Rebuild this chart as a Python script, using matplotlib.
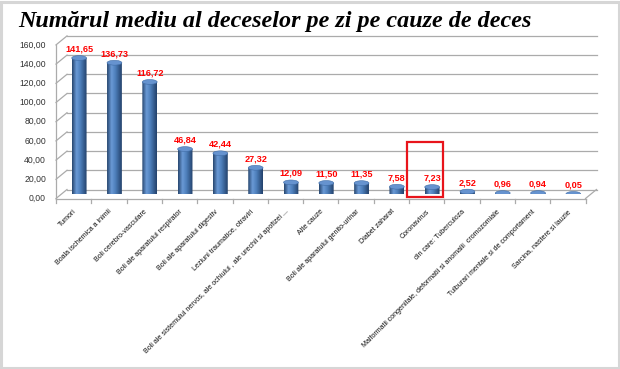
import numpy as np
import matplotlib
matplotlib.use("Agg")
import matplotlib.pyplot as plt
from matplotlib import transforms
from matplotlib.lines import Line2D
from matplotlib.patches import Ellipse, Polygon, Rectangle
from matplotlib.colors import LinearSegmentedColormap

# ---- data ----
causes = [
    "Tumori",
    "Boala ischemica a inimii",
    "Boli cerebro-vasculare",
    "Boli ale aparatului respirator",
    "Boli ale aparatului digestiv",
    "Leziuni traumatice, otraviri",
    "Boli ale sistemului nervos, ale ochiului , ale urechii si apofizei ...",
    "Alte cauze",
    "Boli ale aparatului genito-urinar",
    "Diabet zaharat",
    "Coronavirus",
    "din care: Tuberculoza",
    "Malformatii congenitale, deformatii si anomalii  cromozomiale",
    "Tulburari mentale si de comportament",
    "Sarcina, nastere si lauzie",
]
deaths_per_day = [141.65, 136.73, 116.72, 46.84, 42.44, 27.32, 12.09, 11.50,
                  11.35, 7.58, 7.23, 2.52, 0.96, 0.94, 0.05]
y_ticks = [0, 20, 40, 60, 80, 100, 120, 140, 160]
highlight = "Coronavirus"
title = "Numărul mediu al deceselor pe zi pe cauze de deces"

W, H = 620, 369
fig = plt.figure(figsize=(W / 100, H / 100), dpi=100)
fig.patch.set_facecolor("white")

# mid-depth plane of the fake 3D chart
ax = fig.add_axes([61.5 / W, (H - 194) / H, (591 - 61.5) / W, (194 - 40.4) / H])
ax.set_xlim(-0.5, len(causes) - 0.5)
ax.set_ylim(0, 160)
ax.axis("off")

DX, DY = 5.5, 4.5
front = transforms.offset_copy(ax.transData, fig=fig, x=-DX, y=-DY, units="dots")
back = transforms.offset_copy(ax.transData, fig=fig, x=DX, y=DY, units="dots")
ident = transforms.IdentityTransform()
grid_c = "#ababab"
x0, x1 = -0.5, len(causes) - 0.5


def link(pt):
    # depth edge from the front plane to the back wall
    pf = front.transform(pt)
    pb = back.transform(pt)
    fig.add_artist(Line2D([pf[0], pb[0]], [pf[1], pb[1]], transform=ident,
                          color=grid_c, lw=0.9))


# back wall gridlines + left wall edges + tick labels
for v in y_ticks:
    ax.plot([x0, x1], [v, v], transform=back, color=grid_c, lw=0.9, clip_on=False)
    link((x0, v))
    ax.annotate(f"{v:.2f}".replace(".", ","), xy=(x0, v), xycoords=front,
                xytext=(-10, 0), textcoords="offset pixels", ha="right", va="center",
                fontsize=6.2, family="Liberation Sans", color="#333333")

ax.plot([x0, x0], [0, 160], transform=front, color=grid_c, lw=0.9, clip_on=False)
ax.plot([x0, x1], [0, 0], transform=front, color=grid_c, lw=0.9, clip_on=False)
link((x1, 0))
for k in range(len(causes) + 1):
    p = front.transform((k - 0.5, 0))
    fig.add_artist(Line2D([p[0], p[0]], [p[1], p[1] - 4], transform=ident,
                          color=grid_c, lw=0.9))

# cylinders
cyl = LinearSegmentedColormap.from_list(
    "cyl", [(0, "#27466f"), (0.3, "#6a9ad6"), (0.55, "#4f81bd"), (1, "#23416b")])
grad = np.linspace(0, 1, 64).reshape(1, -1)
bw = 0.42
eh = 5.0
for i, v in enumerate(deaths_per_day):
    t = np.linspace(np.pi, 2 * np.pi, 40)
    bottom = np.column_stack([i + bw / 2 * np.cos(t), eh / 2 * np.sin(t)])
    outline = np.vstack([[[i - bw / 2, v]], bottom, [[i + bw / 2, v]]])
    clip = Polygon(outline, closed=True, transform=ax.transData)
    im = ax.imshow(grad, cmap=cyl, aspect="auto", interpolation="bilinear",
                   extent=(i - bw / 2, i + bw / 2, -eh / 2, v), zorder=3)
    im.set_clip_path(clip)
    ax.add_patch(Ellipse((i, v), bw, eh, facecolor="#6693cf",
                         edgecolor="#3f6ca6", lw=0.4, zorder=4))
    ax.annotate(f"{v:.2f}".replace(".", ","), xy=(i, v), xytext=(0, 4.5),
                textcoords="offset pixels", ha="center", va="bottom",
                fontsize=6.6, family="Liberation Sans", fontweight="bold",
                color="#ff0000", zorder=5)
    ax.annotate(causes[i], xy=(i, 0), xycoords=front, xytext=(2, -12),
                textcoords="offset pixels", ha="right", va="center",
                rotation=45, rotation_mode="anchor", fontsize=5.1,
                family="Liberation Sans", color="#111111")

ax.set_xlim(x0, x1)
ax.set_ylim(0, 160)

# red box around the Coronavirus bar
hi = causes.index(highlight)
ax.add_patch(Rectangle((hi - 0.56, 1.5), 1.02, 57.4, transform=front, fill=False,
                       edgecolor="#e8141b", lw=1.6, zorder=6, clip_on=False))

fig.text(18 / W, 1 - 27 / H, title, ha="left", va="baseline", fontsize=17.4,
         family="Liberation Serif", fontweight="bold", style="italic", color="black")

fig.add_artist(Rectangle((0.002, 0.004), 0.996, 0.99, transform=fig.transFigure,
                         fill=False, edgecolor="#d6d6d6", lw=2.2))

fig.savefig("out.png", dpi=100)
